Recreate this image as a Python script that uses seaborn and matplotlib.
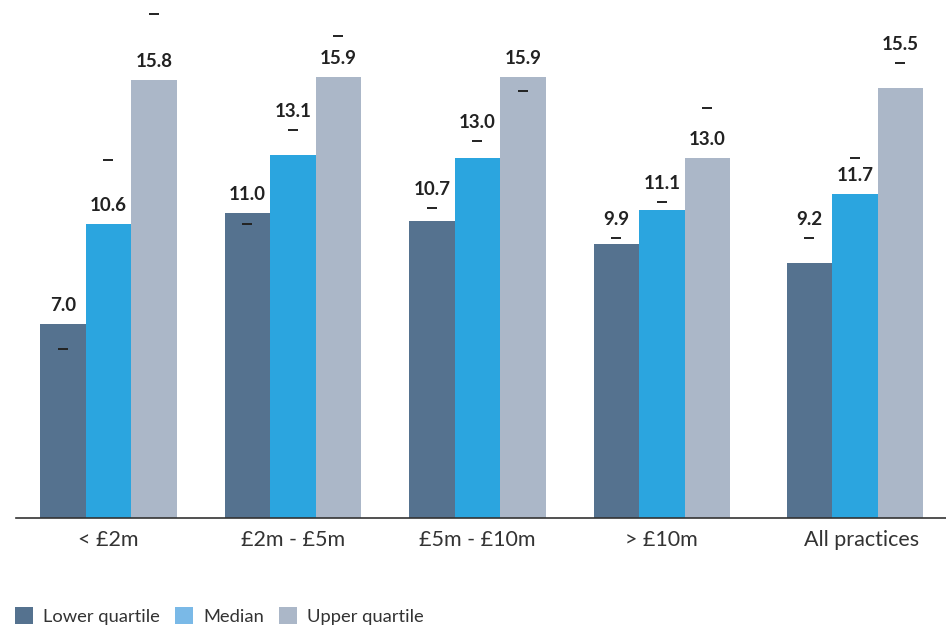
import matplotlib
matplotlib.use("Agg")
import matplotlib.pyplot as plt
from matplotlib.patches import Patch
import seaborn as sns
import pandas as pd

# Practice size bands and quartile values
categories = ["< £2m", "£2m - £5m", "£5m - £10m", "> £10m", "All practices"]
series = ["Lower quartile", "Median", "Upper quartile"]
lower_q = [7.0, 11.0, 10.7, 9.9, 9.2]
median = [10.6, 13.1, 13.0, 11.1, 11.7]
upper_q = [15.8, 15.9, 15.9, 13.0, 15.5]
# Comparison markers (prior values) drawn as short dashes
lower_prev = [6.1, 10.6, 11.2, 10.1, 10.1]
median_prev = [12.9, 14.0, 13.6, 11.4, 13.0]
upper_prev = [18.2, 17.4, 15.4, 14.8, 16.4]

# Layout: group positions along x (the overall group sits slightly apart)
group_pos = [0, 1, 2, 3, 4.046]
label_pos = [0, 1, 2, 3, 4.08]

bar_colors = ["#55728f", "#2ba5df", "#abb7c8"]
legend_colors = ["#55728f", "#7ab9e7", "#abb7c8"]

values = [lower_q, median, upper_q]
prev = [lower_prev, median_prev, upper_prev]
df = pd.DataFrame({
    "pos": [p for _ in series for p in group_pos],
    "measure": [s for s in series for _ in categories],
    "value": [v for vals in values for v in vals],
})

sns.set_theme(style="white")
plt.rcParams["font.family"] = ["Lato", "DejaVu Sans"]

fig = plt.figure(figsize=(9.46, 6.30), dpi=100)
ax = fig.add_axes([16 / 946, 112 / 630, 1 - 16 / 946, 518 / 630])

sns.barplot(data=df, x="pos", y="value", hue="measure", native_scale=True,
            hue_order=series, palette=bar_colors, width=0.74, saturation=1,
            linewidth=0, legend=False, ax=ax)

ax.set_xlim(-0.5, 4.54)
ax.set_ylim(0, 18.69)

for i, container in enumerate(ax.containers):
    bars = sorted(container, key=lambda b: b.get_x())
    xs = [b.get_x() + b.get_width() / 2 for b in bars]
    ax.scatter(xs, prev[i], marker="_", s=55, linewidths=1.4,
               color="#222222", zorder=4)
    for x, v, p in zip(xs, values[i], prev[i]):
        anchor = p if 0 < p - v < 1.1 else v
        ax.annotate(f"{v:.1f}", (x, anchor), xytext=(0, 13),
                    textcoords="offset pixels", ha="center", va="baseline",
                    fontsize=13.5, fontweight="bold", color="#222222")

# Axis styling: only a bottom line with ticks at band boundaries
for side in ["top", "right", "left"]:
    ax.spines[side].set_visible(False)
ax.spines["bottom"].set_color("#333333")
ax.spines["bottom"].set_linewidth(1.2)
ax.set_yticks([])
ax.set_xlabel("")
ax.set_ylabel("")
ax.set_xticks(label_pos)
ax.set_xticklabels(categories, fontsize=15.5, color="#333333")
ax.tick_params(axis="x", which="major", length=0, pad=9)
ax.set_xticks([-0.5, 0.5, 1.5, 2.5, 3.5], minor=True)
ax.tick_params(axis="x", which="minor", length=5, width=1.2,
               color="#333333", direction="out")

handles = [Patch(facecolor=c, edgecolor="none") for c in legend_colors]
fig.legend(handles, series, loc="center left",
           bbox_to_anchor=(15 / 946, 14 / 630), ncol=3, frameon=False,
           fontsize=13.2, handlelength=1.0, handleheight=1.0,
           handletextpad=0.55, columnspacing=0.8, borderpad=0,
           borderaxespad=0, labelcolor="#333333")

fig.savefig("out.png", dpi=100)
